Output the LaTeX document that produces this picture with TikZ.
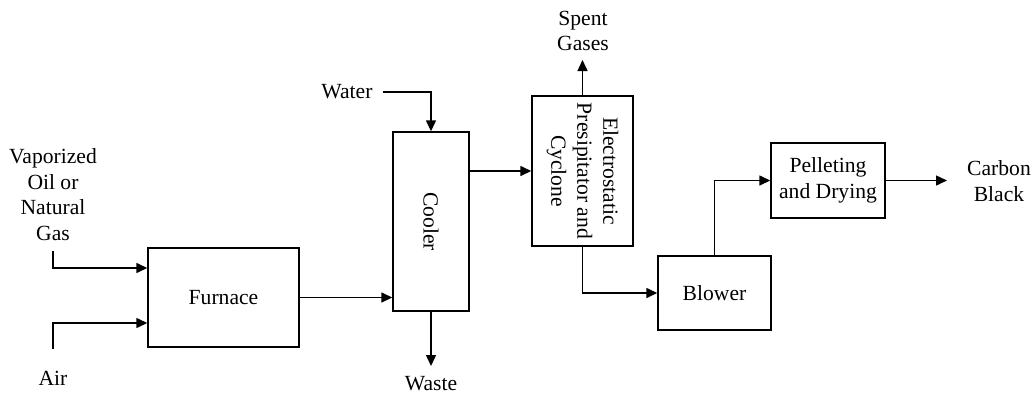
\documentclass[tikz,border=0pt]{standalone}
\usepackage{fontspec}
\setmainfont{Liberation Serif}
\usepackage{graphicx}
\usetikzlibrary{arrows.meta}
\begin{document}
\begin{tikzpicture}[x=1pt,y=-1pt,
  font=\fontsize{21.6}{25.5}\selectfont,
  box/.style={draw, line width=1.4pt, inner sep=0pt, align=center},
  flow/.style={line width=1.4pt, -{Triangle[length=11pt,width=10pt]}},
  lbl/.style={align=center, inner sep=0pt}]
\useasboundingbox (0,0) rectangle (1033,394);

% boxes
\node[box, minimum width=151pt, minimum height=99pt] (furnace) at (223.5,297.5) {Furnace};
\node[box, minimum width=76pt, minimum height=179pt] (cooler) at (431,221.5) {\rotatebox{-90}{Cooler}};
\node[box, minimum width=101pt, minimum height=150pt] (esp) at (582.5,171)
  {\rotatebox{-90}{\begin{tabular}{@{}c@{}}Electrostatic\\[0.5pt]Presipitator and\\[0.5pt]Cyclone\end{tabular}}};
\node[box, minimum width=113pt, minimum height=74pt] (blower) at (714.5,293) {Blower};
\node[box, minimum width=114pt, minimum height=75pt] (pellet) at (828,180.5) {Pelleting\\and Drying};

% labels
\node[lbl] (vapor) at (53,194.5) {Vaporized\\Oil or\\Natural\\Gas};
\node[lbl] (air) at (53,378) {Air};
\node[lbl] (water) at (347,92) {Water};
\node[lbl] (waste) at (431,383.5) {Waste};
\node[lbl] (spent) at (583,31) {Spent\\Gases};
\node[lbl] (carbon) at (999,181) {Carbon\\Black};

% free ends
\coordinate (vin) at (53,251);
\coordinate (ain) at (53,349);
\coordinate (win) at (383,92);
\coordinate (wout) at (431,366);
\coordinate (sout) at (582.5,60);
\coordinate (cout) at (947,180.5);

% connectors
\draw[flow] (vin) |- ([yshift=29.5pt]furnace.west);
\draw[flow] (ain) |- ([yshift=-25.5pt]furnace.west);
\draw[flow] (furnace.east) -- (furnace.east -| cooler.west);
\draw[flow] (win) -| (cooler.north);
\draw[flow] (cooler.south) -- (wout);
\draw[flow] (esp.west -| cooler.east) -- (esp.west);
\draw[flow] (esp.north) -- (sout);
\draw[flow] (esp.south) |- (blower.west);
\draw[flow] (blower.north) |- (pellet.west);
\draw[flow] (pellet.east) -- (cout);
\end{tikzpicture}
\end{document}
